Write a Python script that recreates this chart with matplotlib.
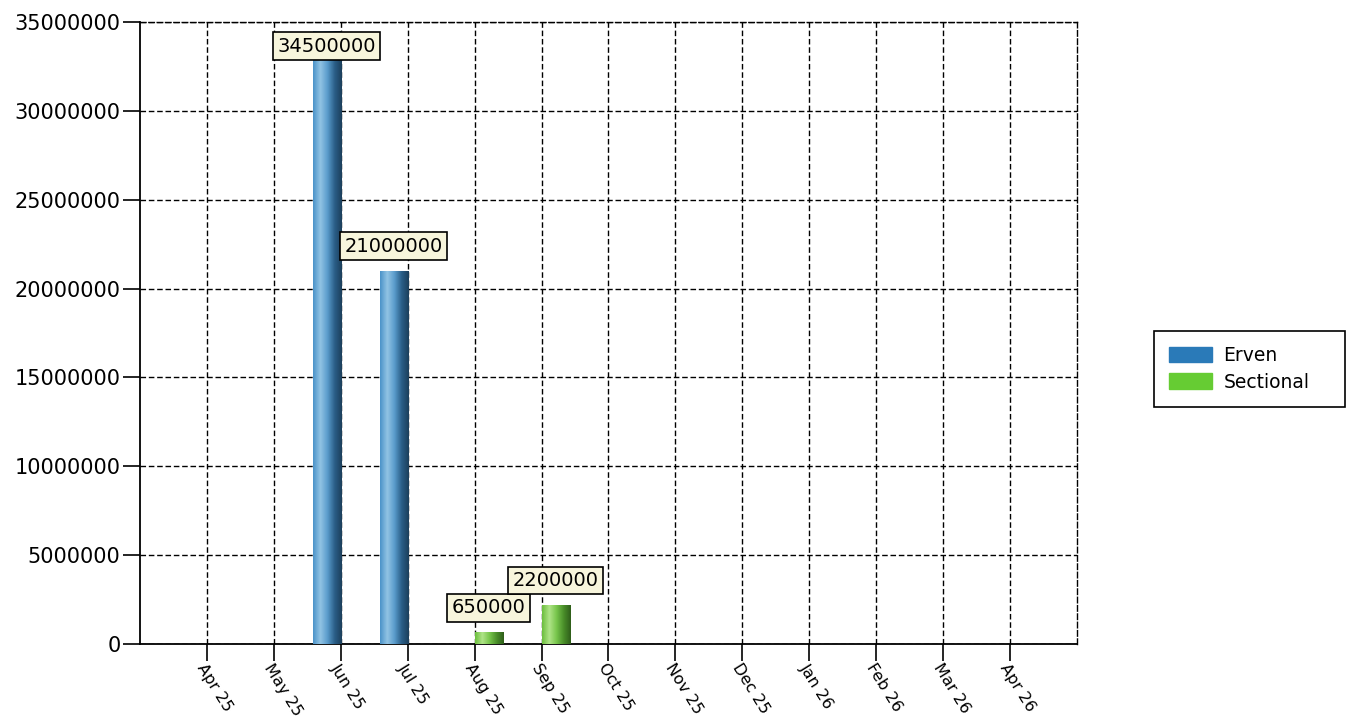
import matplotlib.pyplot as plt
import numpy as np
from matplotlib.colors import LinearSegmentedColormap, to_rgb

months = ['Apr 25', 'May 25', 'Jun 25', 'Jul 25', 'Aug 25', 'Sep 25', 'Oct 25',
          'Nov 25', 'Dec 25', 'Jan 26', 'Feb 26', 'Mar 26', 'Apr 26']
erven = [0, 0, 34500000, 21000000, 0, 0, 0, 0, 0, 0, 0, 0, 0]
sectional = [0, 0, 0, 0, 650000, 2200000, 0, 0, 0, 0, 0, 0, 0]
series = [('Erven', erven, '#2a7ab8', ['#4b93c9', '#92c4e4', '#5a9ccc', '#2b5f88', '#1c3f5c']),
          ('Sectional', sectional, '#66cc33', ['#6cbf3e', '#b0e488', '#78c64c', '#4a8f2a', '#2f5e1a'])]

plt.rcParams['font.family'] = 'DejaVu Sans'
fig = plt.figure(figsize=(13.51, 7.17), dpi=100)
ax = fig.add_axes([0.1036, 0.1018, 0.6936, 0.8675])

x = np.arange(1, len(months) + 1)
width = 0.42
offsets = [-width / 2, width / 2]

handles = []
for (name, vals, col, grad), off in zip(series, offsets):
    bars = ax.bar(x + off, vals, width, color=col, label=name, zorder=3)
    cmap = LinearSegmentedColormap.from_list(name, [to_rgb(c) for c in grad])
    for b, v in zip(bars, vals):
        if v <= 0:
            continue
        b.set_facecolor('none')
        x0, y0 = b.get_x(), b.get_y()
        im = ax.imshow(np.linspace(0, 1, 64).reshape(1, -1), cmap=cmap, aspect='auto',
                       extent=[x0, x0 + b.get_width(), y0, y0 + b.get_height()],
                       zorder=3, interpolation='bilinear')
        im.set_clip_path(b)
        # labels near the top get pushed down to stay inside the plot
        ytxt = min(v + 850000, 33100000)
        ax.text(x0 + b.get_width() / 2, ytxt, str(v), ha='center', va='bottom',
                fontsize=14, zorder=5,
                bbox=dict(boxstyle='square,pad=0.22', fc='#f7f5dc', ec='black', lw=1.2))
    handles.append(plt.Rectangle((0, 0), 1, 1, color=col))

ax.set_xlim(0, 14)
ax.set_ylim(0, 35000000)
ax.set_yticks(np.arange(0, 35000001, 5000000))
ax.set_yticklabels([str(v) for v in range(0, 35000001, 5000000)], fontsize=15)
ax.set_xticks(x)
ax.set_xticklabels(months, rotation=-58, ha='left', va='top', rotation_mode='anchor', fontsize=11.5)
ax.tick_params(axis='both', length=12, width=1.2, direction='out', color='black', pad=2)
ax.tick_params(axis='x', pad=0)

ax.grid(True, color='black', linestyle=(0, (4, 2)), linewidth=1.0, zorder=1)
ax.set_axisbelow(True)
for s in ['top', 'right']:
    ax.spines[s].set_linestyle((0, (4, 2)))
    ax.spines[s].set_linewidth(1.0)
for s in ['left', 'bottom']:
    ax.spines[s].set_linewidth(1.3)

leg = fig.legend(handles, [s[0] for s in series], loc='upper left',
                 bbox_to_anchor=(1154 / 1351, 1 - 407 / 717, 191 / 1351, 76 / 717),
                 mode='expand', borderaxespad=0, fontsize=13.5,
                 fancybox=False, edgecolor='black', framealpha=1,
                 handlelength=2.3, handleheight=0.9, borderpad=0.8,
                 labelspacing=0.4, handletextpad=0.6)
leg.get_frame().set_linewidth(1.2)

fig.savefig('out.png', dpi=100)
